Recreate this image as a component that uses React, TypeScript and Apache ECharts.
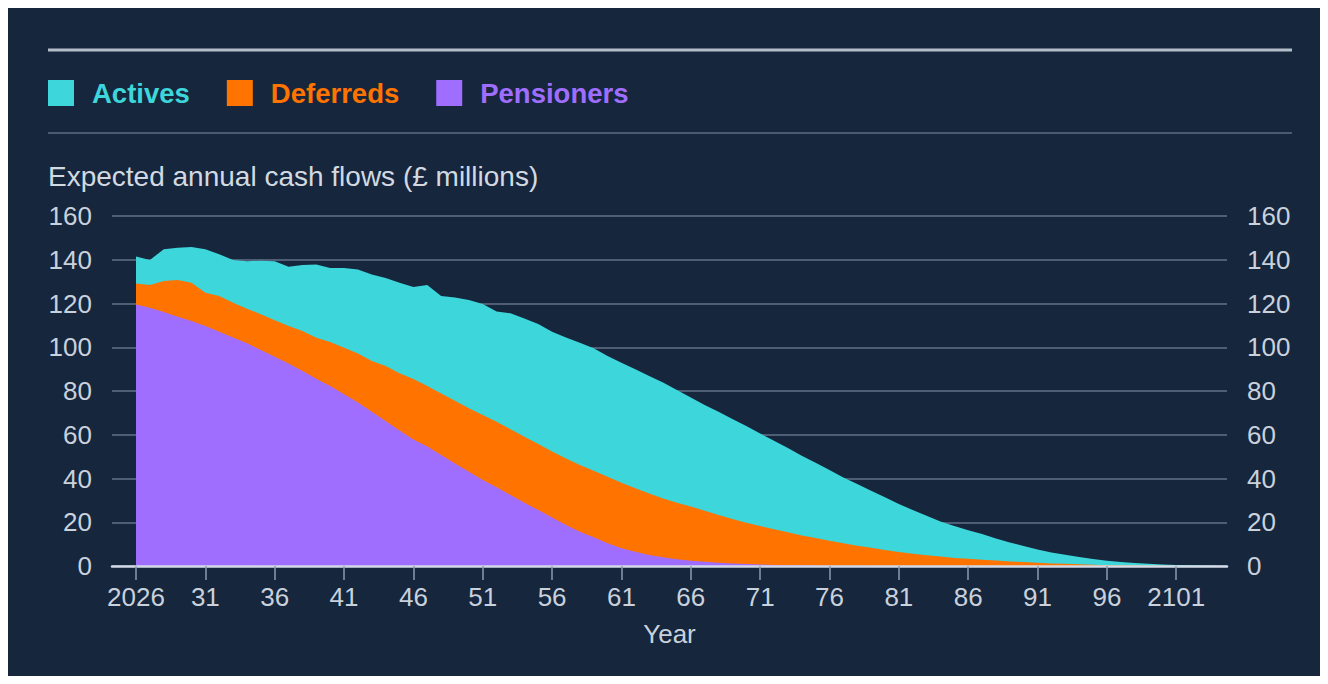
import React, { useEffect, useRef } from "react";
import * as echarts from "echarts";

const years = [
  2026, 2027, 2028, 2029, 2030, 2031, 2032, 2033, 2034, 2035,
  2036, 2037, 2038, 2039, 2040, 2041, 2042, 2043, 2044, 2045,
  2046, 2047, 2048, 2049, 2050, 2051, 2052, 2053, 2054, 2055,
  2056, 2057, 2058, 2059, 2060, 2061, 2062, 2063, 2064, 2065,
  2066, 2067, 2068, 2069, 2070, 2071, 2072, 2073, 2074, 2075,
  2076, 2077, 2078, 2079, 2080, 2081, 2082, 2083, 2084, 2085,
  2086, 2087, 2088, 2089, 2090, 2091, 2092, 2093, 2094, 2095,
  2096, 2097, 2098, 2099, 2100, 2101, 2102, 2103, 2104,
];

const pensioners = [
  119.6, 118.1, 116.1, 114.0, 112.0, 109.7, 107.1, 104.5, 101.8, 98.7,
  95.7, 92.6, 89.1, 85.6, 82.3, 78.5, 74.7, 70.5, 66.3, 62.0,
  57.8, 54.6, 50.7, 46.9, 43.1, 39.3, 36.0, 32.5, 28.9, 25.6,
  22.2, 18.7, 15.7, 13.1, 10.4, 8.1, 6.5, 5.0, 4.0, 3.1,
  2.4, 1.9, 1.5, 1.2, 0.9, 0.7, 0.5, 0.4, 0.3, 0.2,
  0.15, 0.1, 0.1, 0.05, 0.05, 0, 0, 0, 0, 0,
  0, 0, 0, 0, 0, 0, 0, 0, 0, 0,
  0, 0, 0, 0, 0, 0, 0, 0, 0,
];

const deferreds = [
  9.5, 10.4, 14.2, 16.7, 17.5, 15.2, 16.3, 15.9, 15.8, 16.4,
  16.6, 17.1, 18.3, 18.8, 20.1, 21.3, 22.5, 23.2, 25.1, 26.1,
  27.7, 27.7, 28.2, 28.7, 29.0, 29.7, 30.0, 30.0, 30.2, 30.2,
  30.1, 30.5, 30.5, 30.5, 30.4, 30.0, 29.0, 28.2, 26.9, 25.8,
  24.8, 23.4, 21.8, 20.3, 18.9, 17.6, 16.3, 15.0, 13.7, 12.6,
  11.45, 10.3, 9.2, 8.35, 7.25, 6.4, 5.6, 4.9, 4.3, 3.7,
  3.3, 2.9, 2.5, 2.1, 1.8, 1.5, 1.2, 1.0, 0.8, 0.6,
  0.4, 0.3, 0.2, 0.15, 0.1, 0.05, 0, 0, 0,
];

const actives = [
  12.4, 11.4, 14.5, 14.8, 16.3, 19.9, 19.1, 19.5, 21.7, 24.5,
  27.0, 27.1, 30.2, 33.4, 33.8, 36.4, 38.4, 39.6, 40.3, 41.4,
  42.0, 46.2, 44.5, 47.2, 49.5, 50.8, 50.3, 53.0, 54.1, 54.8,
  54.8, 55.3, 55.9, 55.9, 55.2, 54.8, 54.4, 53.7, 53.0, 51.6,
  49.8, 48.3, 47.2, 45.7, 44.2, 42.3, 40.5, 38.5, 36.4, 34.4,
  32.3, 30.1, 28.2, 26.0, 24.1, 21.9, 20.0, 18.1, 16.1, 14.6,
  13.0, 11.7, 10.1, 8.7, 7.3, 6.1, 5.0, 4.2, 3.3, 2.6,
  2.0, 1.5, 1.2, 0.85, 0.6, 0.45, 0.3, 0.2, 0.1,
];

const yearTicks = [2026, 2031, 2036, 2041, 2046, 2051, 2056, 2061, 2066, 2071, 2076, 2081, 2086, 2091, 2096, 2101];

const TEAL = "#3dd6da";
const ORANGE = "#ff7300";
const PURPLE = "#a06eff";
const BG = "#15263d";
const LABEL = "#c9d1dc";
const FONT = "'Liberation Sans', Arial, Helvetica, sans-serif";

export default function App() {
  const ref = useRef<HTMLDivElement>(null);

  useEffect(() => {
    if (!ref.current) return;
    const chart = echarts.init(ref.current, undefined, { renderer: "svg" });

    // stacked tops (each layer drawn from the axis up to its cumulative value)
    const pensTop = years.map((y, i) => [y, pensioners[i]]);
    const defTop = years.map((y, i) => [y, +(pensioners[i] + deferreds[i]).toFixed(2)]);
    const actTop = years.map((y, i) => [y, +(pensioners[i] + deferreds[i] + actives[i]).toFixed(2)]);

    const mk = (name: string, data: number[][], color: string, z: number) => ({
      name,
      type: "line",
      data,
      symbol: "none",
      showSymbol: false,
      lineStyle: { width: 0, color },
      itemStyle: { color },
      areaStyle: { color, opacity: 1 },
      emphasis: { disabled: true },
      z,
    });

    chart.setOption({
      animation: false,
      backgroundColor: "transparent",
      textStyle: { fontFamily: FONT },
      legend: {
        left: 35,
        top: 66,
        icon: "rect",
        itemWidth: 26,
        itemHeight: 26,
        itemGap: 37,
        selectedMode: false,
        textStyle: { fontFamily: FONT, fontSize: 27.5, fontWeight: "bold", padding: [0, 0, 0, 13] },
        data: [
          { name: "Actives", textStyle: { color: TEAL } },
          { name: "Deferreds", textStyle: { color: ORANGE } },
          { name: "Pensioners", textStyle: { color: PURPLE } },
        ],
      },
      grid: { left: 104, right: 93, top: 208, bottom: 110, containLabel: false },
      xAxis: {
        type: "value",
        min: 2024.27,
        max: 2104.66,
        name: "Year",
        nameLocation: "middle",
        nameGap: 55,
        nameTextStyle: { color: LABEL, fontSize: 26, fontFamily: FONT },
        axisLine: { show: true, lineStyle: { color: "#d3dae6", width: 2.5 } },
        axisTick: { show: true, length: 14, lineStyle: { color: "#8c9bb0", width: 1.5 }, customValues: yearTicks },
        axisLabel: {
          color: LABEL,
          fontSize: 26,
          fontFamily: FONT,
          margin: 18,
          customValues: yearTicks,
          formatter: (v: number) => (v === 2026 || v === 2101 ? String(v) : String(v).slice(2)),
        },
        splitLine: { show: false },
        z: 5,
      },
      yAxis: [
        {
          type: "value",
          min: 0,
          max: 160,
          interval: 20,
          position: "left",
          axisLine: { show: false },
          axisTick: { show: false },
          axisLabel: { color: LABEL, fontSize: 26, fontFamily: FONT, margin: 20 },
          splitLine: { show: true, lineStyle: { color: "#617289", width: 1.5 } },
        },
        {
          type: "value",
          min: 0,
          max: 160,
          interval: 20,
          position: "right",
          axisLine: { show: false },
          axisTick: { show: false },
          axisLabel: { color: LABEL, fontSize: 26, fontFamily: FONT, margin: 20 },
          splitLine: { show: false },
        },
      ],
      graphic: [
        { type: "line", shape: { x1: 40, y1: 42, x2: 1284, y2: 42 }, style: { stroke: "#b3bdca", lineWidth: 3 } },
        { type: "line", shape: { x1: 40, y1: 125, x2: 1284, y2: 125 }, style: { stroke: "#5c6d85", lineWidth: 1.5 } },
        {
          type: "text",
          x: 40,
          y: 168,
          style: {
            text: "Expected annual cash flows (£ millions)",
            fill: "#d3d9e1",
            fontSize: 28,
            fontFamily: FONT,
            verticalAlign: "middle",
          },
        },
      ],
      series: [
        mk("Actives", actTop, TEAL, 2),
        mk("Deferreds", defTop, ORANGE, 3),
        mk("Pensioners", pensTop, PURPLE, 4),
      ],
    });

    return () => chart.dispose();
  }, []);

  return <div ref={ref} style={{ width: "100%", height: 668, background: BG }} />;
}
